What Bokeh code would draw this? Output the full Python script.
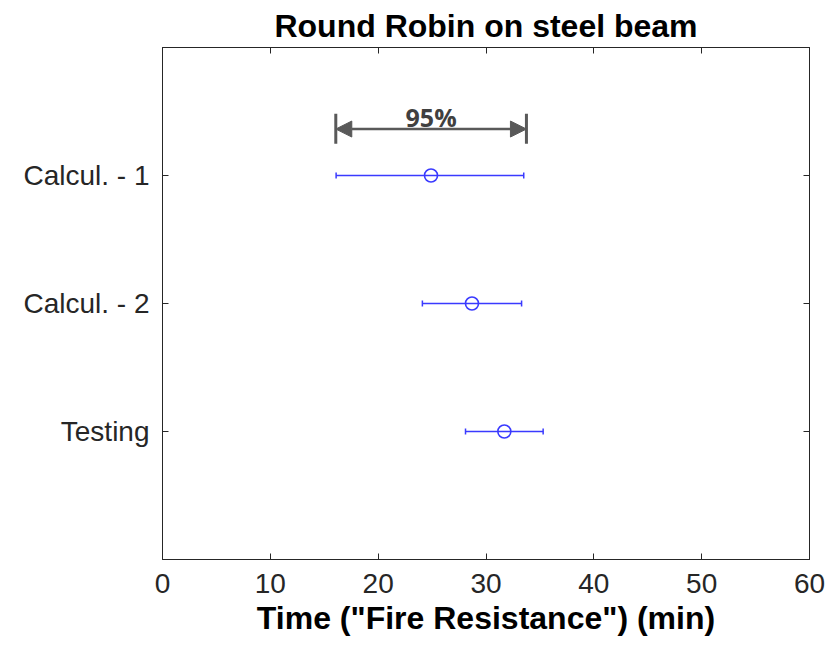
from bokeh.plotting import figure
from bokeh.models import (ColumnDataSource, Whisker, TeeHead, Arrow, NormalHead,
                          FixedTicker, LinearAxis, Range1d, Label)
from bokeh.embed import file_html
from bokeh.resources import INLINE

# ---- data ----
categories = ["Testing", "Calcul. - 2", "Calcul. - 1"]
cat_pos = [1, 2, 3]
mean_time = [31.7, 28.7, 24.9]
lower_time = [28.1, 24.1, 16.1]
upper_time = [35.3, 33.3, 33.5]
x_ticks = [0, 10, 20, 30, 40, 50, 60]

# annotation (95% interval marker)
ann_x = [16.07, 33.75]
ann_y = 3.363
ann_bar_y = [3.248, 3.482]
ann_text = "95%"

TXT = "#262626"
BLUE = "#3a3aff"
GRAY = "#595959"

p = figure(width=834, height=648, output_backend="svg", toolbar_location=None,
           x_range=Range1d(0, 60), y_range=Range1d(0, 4),
           min_border_left=162, min_border_right=25, min_border_top=47,
           min_border_bottom=89, background_fill_color="white",
           border_fill_color="white", title="Round Robin on steel beam")

p.title.align = "center"
p.title.text_font = "Liberation Sans"
p.title.text_font_size = "32px"
p.title.text_font_style = "bold"
p.title.text_color = "black"
p.title.standoff = 8

p.grid.visible = False
p.outline_line_color = TXT
p.outline_line_width = 1

for ax in p.xaxis:
    ax.ticker = FixedTicker(ticks=x_ticks)
for ax in p.yaxis:
    ax.ticker = FixedTicker(ticks=cat_pos)
    ax.major_label_overrides = {c: n for c, n in zip(cat_pos, categories)}

p.xaxis.axis_label = 'Time ("Fire Resistance") (min)'
p.xaxis.axis_label_text_font = "Liberation Sans"
p.xaxis.axis_label_text_font_size = "32px"
p.xaxis.axis_label_text_font_style = "bold"
p.xaxis.axis_label_text_color = "black"
p.xaxis.axis_label_standoff = 4

for ax in [p.xaxis[0], p.yaxis[0]]:
    ax.major_label_text_font = "Liberation Sans"
    ax.major_label_text_font_size = "28px"
    ax.major_label_text_color = TXT
    ax.major_tick_in = 6
    ax.major_tick_out = 0
    ax.minor_tick_line_color = None
    ax.axis_line_color = TXT
    ax.major_tick_line_color = TXT
p.xaxis[0].major_label_standoff = 14
p.yaxis[0].major_label_standoff = 13

top = LinearAxis(ticker=FixedTicker(ticks=x_ticks), major_label_text_font_size="0px",
                 major_tick_in=6, major_tick_out=0, minor_tick_line_color=None,
                 axis_line_color=TXT, major_tick_line_color=TXT, major_label_standoff=0)
right = LinearAxis(ticker=FixedTicker(ticks=cat_pos), major_label_text_font_size="0px",
                   major_tick_in=6, major_tick_out=0, minor_tick_line_color=None,
                   axis_line_color=TXT, major_tick_line_color=TXT, major_label_standoff=0)
top.major_label_text_color = None
right.major_label_text_color = None
p.add_layout(top, "above")
p.add_layout(right, "right")

src = ColumnDataSource(dict(y=cat_pos, m=mean_time, lo=lower_time, hi=upper_time))
w = Whisker(source=src, base="y", lower="lo", upper="hi", dimension="width",
            line_color=BLUE, line_width=1.5,
            lower_head=TeeHead(size=6, line_color=BLUE, line_width=1.5),
            upper_head=TeeHead(size=6, line_color=BLUE, line_width=1.5))
p.add_layout(w)
p.scatter(x="m", y="y", source=src, marker="circle", size=13, fill_color=None,
          line_color=BLUE, line_width=1.6)

# annotation
asrc = ColumnDataSource(dict(x=ann_x, y0=[ann_bar_y[0]] * 2, y1=[ann_bar_y[1]] * 2))
p.segment(x0="x", y0="y0", x1="x", y1="y1", source=asrc, line_color=GRAY, line_width=3)
p.add_layout(Arrow(x_start=ann_x[0], y_start=ann_y, x_end=ann_x[1], y_end=ann_y,
                   line_color=GRAY, line_width=2.5,
                   start=NormalHead(size=16, fill_color=GRAY, line_color=GRAY, line_width=1),
                   end=NormalHead(size=16, fill_color=GRAY, line_color=GRAY, line_width=1)))
p.add_layout(Label(x=(ann_x[0] + ann_x[1]) / 2, y=ann_y - 0.035, text=ann_text,
                   text_align="center", text_baseline="bottom",
                   text_font="Open Sans", text_font_size="25px",
                   text_font_style="bold", text_color="#404040"))

open("out.html", "w").write(file_html(p, INLINE))
